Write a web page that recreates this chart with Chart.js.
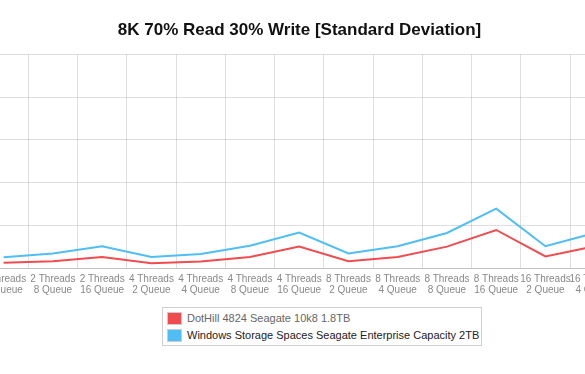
<!DOCTYPE html>
<html>
<head>
<meta charset="utf-8">
<script src="https://cdn.jsdelivr.net/npm/chart.js@4"></script>
<style>
    body { margin: 0; background: #fff; font-family: 'Liberation Sans', Arial, sans-serif; }
    #wrap { position: relative; width: 585px; height: 374px; overflow: hidden; }
    #grafico { position: absolute; left: -21px; top: 0; }
    #legenda {
        position: absolute; left: 162px; top: 307px; width: 320px; height: 39px;
        border: 1px solid #d0d0d0; padding: 2px 0 0 4px; box-sizing: border-box;
        font-size: 11px; line-height: 17px;
    }
    #legenda div { white-space: nowrap; }
    #legenda span.cor {
        display: inline-block; width: 13px; height: 11px; border: 1px solid #ccc;
        vertical-align: -3px; margin-right: 5px;
    }
</style>
</head>
<body>
<div id="wrap">
    <canvas id="grafico" width="641" height="296"></canvas>
    <div id="legenda"></div>
</div>
<script>
const titulo = '8K 70% Read 30% Write [Standard Deviation]';
const categorias = [
    ['2 Threads', '4 Queue'], ['2 Threads', '8 Queue'], ['2 Threads', '16 Queue'],
    ['4 Threads', '2 Queue'], ['4 Threads', '4 Queue'], ['4 Threads', '8 Queue'], ['4 Threads', '16 Queue'],
    ['8 Threads', '2 Queue'], ['8 Threads', '4 Queue'], ['8 Threads', '8 Queue'], ['8 Threads', '16 Queue'],
    ['16 Threads', '2 Queue'], ['16 Threads', '4 Queue']
];
const nomeDotHill = 'DotHill 4824 Seagate 10k8 1.8TB';
const valoresDotHill = [1.2, 1.6, 2.6, 1.1, 1.5, 2.6, 5.0, 1.6, 2.6, 5.0, 8.9, 2.7, 5.1];
const nomeWindows = 'Windows Storage Spaces Seagate Enterprise Capacity 2TB';
const valoresWindows = [2.5, 3.4, 5.1, 2.6, 3.3, 5.2, 8.3, 3.4, 5.1, 8.2, 13.9, 5.1, 8.2];
const ticksY = [0, 10, 20, 30, 40, 50];

document.addEventListener("DOMContentLoaded", function() {
    Chart.defaults.font.family = "'Liberation Sans', Arial, sans-serif";
    const ctx = document.getElementById('grafico').getContext('2d');
    const grafico = new Chart(ctx, {
        type: 'line',
        data: {
            labels: categorias,
            datasets: [{
                label: nomeDotHill,
                data: valoresDotHill,
                borderColor: 'rgb(240, 76, 80)',
                backgroundColor: 'rgb(240, 76, 80)',
                borderWidth: 2,
                pointRadius: 0,
                fill: false,
                tension: 0
            }, {
                label: nomeWindows,
                data: valoresWindows,
                borderColor: 'rgb(79, 190, 245)',
                backgroundColor: 'rgb(79, 190, 245)',
                borderWidth: 2,
                pointRadius: 0,
                fill: false,
                tension: 0
            }]
        },
        options: {
            responsive: false,
            animation: false,
            devicePixelRatio: 1,
            layout: { padding: 0, autoPadding: false },
            plugins: {
                legend: { display: false },
                tooltip: { enabled: false },
                title: {
                    display: true,
                    text: titulo,
                    color: '#111',
                    font: { size: 17, weight: 'bold' },
                    padding: { top: 20, bottom: 14 }
                }
            },
            scales: {
                x: {
                    offset: true,
                    grid: {
                        offset: true, color: 'rgba(0,0,0,0.13)',
                        drawTicks: true, tickLength: 6, tickColor: 'rgba(0,0,0,0)'
                    },
                    border: { color: 'rgba(0,0,0,0.13)' },
                    ticks: {
                        color: '#888',
                        font: { size: 10, lineHeight: 1.1 },
                        padding: 0,
                        maxRotation: 0,
                        autoSkip: false
                    }
                },
                y: {
                    min: ticksY[0],
                    max: ticksY[ticksY.length - 1],
                    afterBuildTicks: function(axis) {
                        axis.ticks = ticksY.map(function(v) { return { value: v }; });
                    },
                    afterFit: function(axis) { axis.width = 0; },
                    grid: { color: 'rgba(0,0,0,0.13)', drawTicks: false },
                    border: { display: false },
                    ticks: { display: false }
                }
            }
        }
    });

    // legenda em HTML, gerada a partir dos datasets
    const legenda = document.getElementById('legenda');
    grafico.data.datasets.forEach(function(ds, i) {
        const linha = document.createElement('div');
        linha.style.color = i === 0 ? '#666' : '#222';
        linha.innerHTML = '<span class="cor" style="background:' + ds.backgroundColor + '"></span>' + ds.label;
        legenda.appendChild(linha);
    });
});
</script>
</body>
</html>
